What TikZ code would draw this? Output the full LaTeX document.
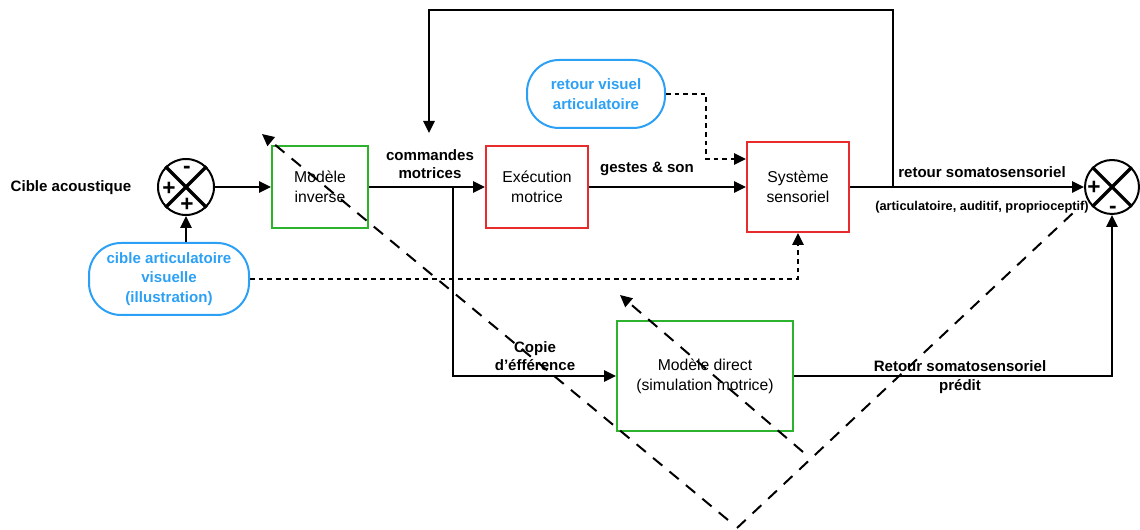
\documentclass[tikz,border=0pt]{standalone}
\usepackage{fontspec}
\setmainfont{Liberation Sans}
\usetikzlibrary{arrows.meta}
\definecolor{grn}{RGB}{44,178,44}
\definecolor{rd}{RGB}{232,44,44}
\definecolor{blu}{RGB}{44,160,245}
\begin{document}
\begin{tikzpicture}[x=0.75pt,y=-0.75pt,
  font=\fontsize{11.8}{15}\selectfont,
  blk/.style={draw, line width=1.5pt, inner sep=0pt, align=center},
  gbox/.style={blk, draw=grn},
  rbox/.style={blk, draw=rd},
  bbox/.style={blk, draw=blu, rounded corners=24pt, text=blu, font=\fontsize{11.3}{14.5}\selectfont\bfseries},
  lbl/.style={align=center, font=\fontsize{11.3}{14}\selectfont\bfseries},
  sum/.style={circle, draw, line width=1.5pt, minimum size=42pt, inner sep=0pt},
  sgn/.style={font=\fontsize{17}{17}\selectfont\bfseries, inner sep=0pt},
  arr/.style={line width=1.5pt, -{Triangle[length=9pt,width=8.5pt]}},
  dotarr/.style={line width=1.5pt, dash pattern=on 3.5pt off 3pt, -{Triangle[length=9pt,width=8.5pt]}},
  dsh/.style={line width=1.5pt, dash pattern=on 9pt off 7pt},
  dsharr/.style={dsh, -{Triangle[length=9pt,width=8.5pt]}}]
\useasboundingbox (0,0) rectangle (1140,530);

% nodes
\node[lbl] (cac) at (71,188) {Cible acoustique};
\node[sum] (s1) at (186,187) {};
\draw[line width=2.4pt] (s1.north west) -- (s1.south east) (s1.north east) -- (s1.south west);
\node[sgn] at (187,170) {-};
\node[sgn] at (169,189) {+};
\node[sgn] at (187,205) {+};

\node[gbox, minimum width=72pt, minimum height=62pt] (inv) at (320,187) {Modèle\\inverse};
\node[rbox, minimum width=76.5pt, minimum height=61pt] (exe) at (537,187) {Exécution\\motrice};
\node[rbox, minimum width=76.5pt, minimum height=67.5pt] (sys) at (798,187) {Système\\sensoriel};
\node[gbox, minimum width=132pt, minimum height=82.5pt] (dir) at (705,376) {Modèle direct\\(simulation motrice)};
\node[bbox, minimum width=120pt, minimum height=54pt] (cib) at (169,279) {cible articulatoire\\visuelle\\(illustration)};
\node[bbox, minimum width=103.5pt, minimum height=51pt] (rv) at (596,94) {retour visuel\\articulatoire};

\node[sum, minimum size=40.5pt] (s2) at (1112,187) {};
\draw[line width=2.4pt] (s2.north west) -- (s2.south east) (s2.north east) -- (s2.south west);
\node[sgn] at (1094,188) {+};
\node[sgn] at (1113,210) {-};

% labels
\node[lbl] at (430,164) {commandes\\motrices};
\node[lbl] at (647,169) {gestes \& son};
\node[lbl] at (982,172) {retour somatosensoriel};
\node[lbl, font=\fontsize{9.6}{11}\selectfont\bfseries] at (982,207) {(articulatoire, auditif, proprioceptif)};
\node[lbl] at (535,356) {Copie\\d’éfférence};
\node[lbl] at (960,377) {Retour somatosensoriel\\prédit};

% coordinates
\coordinate (fbsplit) at (893,187);
\coordinate (tr) at (893,10);
\coordinate (fbend) at (429,133);
\coordinate (cpsplit) at (453,187);
\coordinate (rvbend) at (706,159);

% connectors
\draw[arr] (s1) -- (inv);
\draw[arr] (inv) -- (exe);
\draw[arr] (exe) -- (sys);
\draw[arr] (sys) -- (s2);
\draw[arr] (s1 |- cib.north) -- (s1.south);
\draw[arr] (fbsplit) -- (tr) -| (fbend);
\draw[arr] (cpsplit) |- (dir.west);
\draw[arr] (dir.east) -| (s2.south);
\draw[dotarr] (cib.east) -| (sys.south);
\draw[dotarr] (rv.east) -| (rvbend) -- ([yshift=21pt]sys.west);

% dashed cross
\coordinate (d1) at (262,134);
\coordinate (d2) at (728,520);
\coordinate (d3) at (737,528);
\coordinate (d4) at (1073,213);
\coordinate (d5) at (803,452);
\coordinate (d6) at (620,295);
\draw[dsharr] (d2) -- (d1);
\draw[dsh] (d3) -- (d4);
\draw[dsharr] (d5) -- (d6);
\end{tikzpicture}
\end{document}
